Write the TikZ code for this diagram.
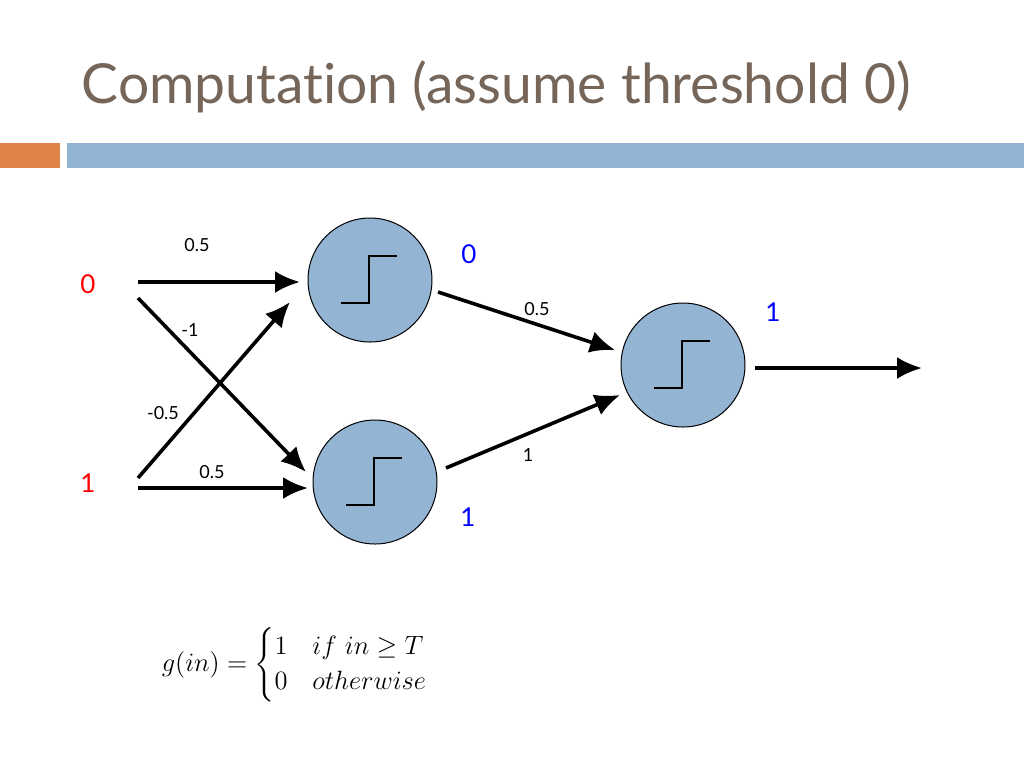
\documentclass[tikz,border=0pt]{standalone}
\usepackage{amsmath,amssymb}
\usepackage{fontspec}
\setsansfont{Lato}[Ligatures=NoCommon]
\usepackage{tikz}
\usetikzlibrary{positioning,calc,arrows.meta}

\definecolor{titlegray}{RGB}{118,102,90}
\definecolor{barorange}{RGB}{223,130,72}
\definecolor{barblue}{RGB}{148,180,211}
\definecolor{unitblue}{RGB}{148,180,212}

\begin{document}
\begin{tikzpicture}[x=0.5pt, y=-0.5pt, >={Latex[length=12.5pt,width=11pt]}, line width=1.8pt,
    unit/.style={draw, circle, fill=unitblue, line width=0.5pt, minimum size=62pt, inner sep=0pt},
    wlabel/.style={font=\sffamily\fontsize{9}{10}\selectfont},
    inval/.style={text=red, font=\sffamily\fontsize{13}{15}\selectfont},
    outval/.style={text=blue, font=\sffamily\fontsize{13}{15}\selectfont}]
    \useasboundingbox (0,0) rectangle (1024,768);
    \fill[white] (0,0) rectangle (1024,768);

    % title and bars
    \node [anchor=base west, inner sep=0pt, text=titlegray, font=\sffamily\fontsize{27.6}{32}\selectfont] (title) at (80,103) {Computation (assume threshold 0)};
    \fill [barorange] (0,143) rectangle (60,168);
    \fill [barblue] (67,143) rectangle (1024,168);

    % units
    \node [unit] (hidA) at (370,280) {};
    \node [unit] (hidB) at (375,482) {};
    \node [unit] (outn) at (683,365) {};
    \foreach \u in {hidA,hidB,outn}
        \draw [line width=1.1pt] ([shift={(-29,23)}]\u.center) -- ++(28,0) -- ++(0,-47) -- ++(28,0);

    % inputs
    \node [inval] (inA) at (88,284) {0};
    \node [inval] (inB) at (88,483) {1};
    \coordinate (inAa) at (138,282);
    \coordinate (inAb) at (138,298);
    \coordinate (inBa) at (138,478);
    \coordinate (inBb) at (138,488);
    \coordinate (outend) at (922,368);

    \draw [->] (inAa) -- ($(hidA.center)+(-70,2)$);
    \draw [->] (inAb) -- ($(hidB.center)+(-69,-10)$);
    \draw [->] (inBa) -- ($(hidA.center)+(-80,22)$);
    \draw [->] (inBb) -- ($(hidB.center)+(-67,6)$);
    \draw [->] ($(hidA.center)+(68,12)$) -- ($(outn.center)+(-68,-15)$);
    \draw [->] ($(hidB.center)+(71,-14)$) -- ($(outn.center)+(-63,30)$);
    \draw [->] ($(outn.center)+(72,3)$) -- (outend);

    % weights
    \node [wlabel] (wA) at (197,245) {0.5};
    \node [wlabel] (wB) at (190,330) {-1};
    \node [wlabel] (wC) at (163,413) {-0.5};
    \node [wlabel] (wD) at (212,472) {0.5};
    \node [wlabel] (wE) at (537,309) {0.5};
    \node [wlabel] (wF) at (528,455) {1};

    % outputs
    \node [outval] (oA) at (469,254) {0};
    \node [outval] (oB) at (468,517) {1};
    \node [outval] (oC) at (773,312) {1};

    % activation
    \node [anchor=west, inner sep=0pt, font=\fontsize{13.5}{16}\selectfont] (gfun) at (160,665)
        {\scalebox{0.92}{$g(in) = \begin{cases} 1 & if\ in \geq T\\ 0 & otherwise\end{cases}$}};
\end{tikzpicture}
\end{document}
